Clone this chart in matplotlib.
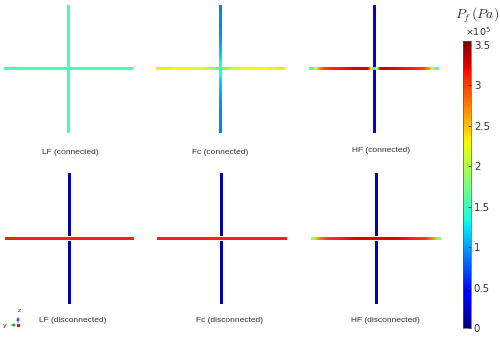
import numpy as np
import matplotlib
matplotlib.use('Agg')
import matplotlib.pyplot as plt
from matplotlib import cm, colors

# fracture pressure along each fracture, in units of 1e5 Pa
# horizontal: left -> right, vertical: top -> bottom
lf_con_h = [1.55, 1.55, 1.55, 1.55, 1.55]
lf_con_v = [1.55, 1.55, 1.55, 1.55, 1.55]
fc_con_h = [2.35, 2.3, 2.3, 2.25, 2.1, 1.5, 2.1, 2.25, 2.3, 2.3, 2.35]
fc_con_v = [0.9, 0.92, 0.95, 1.05, 1.2, 1.5, 1.2, 1.05, 0.95, 0.92, 0.9]
hf_con_h = [1.6, 2.6, 2.95, 3.05, 3.1, 3.15, 3.2, 3.25, 3.3, 3.3, 1.3,
            3.3, 3.3, 3.25, 3.2, 3.15, 3.1, 3.05, 2.95, 2.6, 1.6]
hf_con_v = [0.3, 0.3, 0.3, 0.3, 0.3]
lf_dis_h = [3.1, 3.1, 3.1, 3.1, 3.1]
lf_dis_v = [0.15, 0.15, 0.15, 0.15, 0.15]
fc_dis_h = [3.1, 3.1, 3.1, 3.1, 3.1]
fc_dis_v = [0.15, 0.15, 0.15, 0.15, 0.15]
hf_dis_h = [1.9, 2.75, 3.0, 3.05, 3.1, 3.15, 3.2, 3.25, 3.25, 3.25, 3.25,
            3.25, 3.25, 3.25, 3.2, 3.15, 3.1, 3.05, 3.0, 2.75, 1.9]
hf_dis_v = [0.2, 0.2, 0.2, 0.2, 0.2]

labels = ['LF (connected)', 'Fc (connected)', 'HF (connected)',
          'LF (disconnected)', 'Fc (disconnected)', 'HF (disconnected)']
cbar_ticks = [0, 0.5, 1, 1.5, 2, 2.5, 3, 3.5]

VMIN, VMAX = 0.0, 3.55
W = 500.0
H = 337.0


def px_axes(fig, x0, x1, y0, y1):
    # axes from pixel box (y measured from top)
    return fig.add_axes([x0 / W, (H - y1) / H, (x1 - x0) / W, (y1 - y0) / H])


def draw_cross(ax, hvals, vvals, connected, half=0.021, gap=0.022):
    kw = dict(cmap='jet', vmin=VMIN, vmax=VMAX, interpolation='bilinear',
              aspect='auto', origin='upper')
    hv = np.array(hvals)[np.newaxis, :]
    vv = np.array(vvals)[:, np.newaxis]
    if connected:
        ax.imshow(vv, extent=(-half, half, -1, 1), **kw)
        ax.imshow(hv, extent=(-1, 1, -half, half), **kw)
    else:
        n = len(vvals)
        ax.imshow(vv[:n // 2 + 1], extent=(-half, half, half + gap, 1), **kw)
        ax.imshow(vv[n // 2:], extent=(-half, half, -1, -half - gap), **kw)
        ax.imshow(hv, extent=(-1, 1, -half, half), **kw)
    ax.set_xlim(-1, 1)
    ax.set_ylim(-1, 1)
    ax.axis('off')


fig = plt.figure(figsize=(5.0, 3.37), dpi=100)

panels = [
    ((4, 133, 5, 133), lf_con_h, lf_con_v, True, (70, 152)),
    ((156, 284, 5, 133), fc_con_h, fc_con_v, True, (220, 152)),
    ((309, 439, 5, 133), hf_con_h, hf_con_v, True, (381, 150)),
    ((5, 134, 173, 304), lf_dis_h, lf_dis_v, False, (73, 321)),
    ((157, 286, 173, 304), fc_dis_h, fc_dis_v, False, (229, 321)),
    ((311, 441, 173, 304), hf_dis_h, hf_dis_v, False, (385, 320)),
]

for (box, hv, vv, con, (tx, ty)), lab in zip(panels, labels):
    ax = px_axes(fig, *box)
    draw_cross(ax, hv, vv, con)
    fig.text(tx / W, 1 - ty / H, lab, ha='center', va='center',
             fontsize=6, family='Liberation Sans', color='#333333')

# colorbar
cax = px_axes(fig, 463, 471, 41, 328)
sm = cm.ScalarMappable(norm=colors.Normalize(VMIN, VMAX), cmap='jet')
cb = fig.colorbar(sm, cax=cax, ticks=cbar_ticks)
cb.ax.set_yticklabels(['%g' % t for t in cbar_ticks])
cb.ax.tick_params(labelsize=7.3, length=2, direction='in', colors='#333333',
                  pad=2, width=0.6)
cb.outline.set_linewidth(0.5)
cb.outline.set_edgecolor('#555555')
fig.text(477 / W, 1 - 15 / H, r'$P_f\,(Pa)$', ha='center', va='center',
         fontsize=10, math_fontfamily='cm', color='#333333')
fig.text(465 / W, 1 - 32 / H, r'$\times10^5$', ha='left', va='center',
         fontsize=6.8, color='#333333')

# little axis triad in the corner
over = fig.add_axes([0, 0, 1, 1])
over.set_xlim(0, W)
over.set_ylim(H, 0)
over.axis('off')
over.annotate('', xy=(8, 325), xytext=(18, 325),
              arrowprops=dict(arrowstyle='-|>', color='#22aa22', lw=0.8,
                              mutation_scale=4))
over.annotate('', xy=(18, 314), xytext=(18, 325),
              arrowprops=dict(arrowstyle='-|>', color='#2266ee', lw=0.8,
                              mutation_scale=4))
over.plot([18], [325], 's', color='#cc2222', ms=1.5)
over.text(5, 325, 'y', fontsize=4.5, ha='center', va='center', color='#333333')
over.text(19, 311, 'z', fontsize=4.5, ha='center', va='center', color='#333333')

fig.savefig('out.png', dpi=100)
